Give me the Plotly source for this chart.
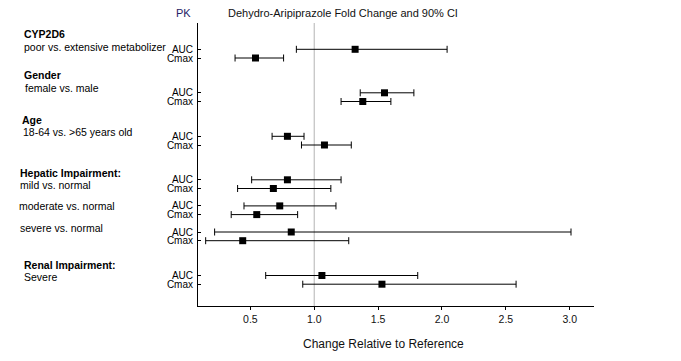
import numpy as np
import plotly.graph_objects as go

# ---- data (fold change and 90% CI) ----
groups = ["CYP2D6 poor vs. extensive", "Gender female vs. male", "Age 18-64 vs. >65",
          "Hepatic mild", "Hepatic moderate", "Hepatic severe", "Renal severe"]
auc_est = [1.32, 1.55, 0.79, 0.79, 0.73, 0.82, 1.06]
auc_lo = [0.86, 1.36, 0.67, 0.51, 0.45, 0.22, 0.62]
auc_hi = [2.04, 1.78, 0.92, 1.21, 1.17, 3.01, 1.81]
cmax_est = [0.54, 1.38, 1.08, 0.68, 0.55, 0.44, 1.53]
cmax_lo = [0.38, 1.21, 0.90, 0.40, 0.35, 0.15, 0.91]
cmax_hi = [0.76, 1.60, 1.29, 1.13, 0.87, 1.27, 2.58]
pk_params = ["AUC", "Cmax"]
x_ticks = [0.5, 1.0, 1.5, 2.0, 2.5, 3.0]

# layout of rows (row units): spacing between group starts
group_gap = [0, 5, 5, 5, 3, 3, 5]
starts = np.cumsum(group_gap)
y_auc = list(starts)
y_cmax = list(starts + 1)

FONT = "Liberation Sans, Arial, sans-serif"

# page geometry (the page body has an 8px default margin)
OFF = 8
W, H = 681, 361
L, R, T, B = 198, 87, 23, 55          # plot area in page pixels
PW = W - L - R
PH = H - T - B


def px_to_paper_x(px):
    return (px - L) / PW


def px_to_paper_y(py):
    return (H - B - py) / PH


fig = go.Figure()

# reference line at 1.0
fig.add_shape(type="line", x0=1.0, x1=1.0, y0=0, y1=1, xref="x", yref="paper",
              line=dict(color="#c0c0c0", width=1.2), layer="below")

ys, est, lo, hi = [], [], [], []
for i in range(len(groups)):
    ys += [y_auc[i], y_cmax[i]]
    est += [auc_est[i], cmax_est[i]]
    lo += [auc_lo[i], cmax_lo[i]]
    hi += [auc_hi[i], cmax_hi[i]]
est = np.array(est)
plus = np.array(hi) - est
minus = est - np.array(lo)

fig.add_trace(go.Scatter(
    x=est, y=ys, mode="markers",
    marker=dict(symbol="square", size=7, color="black"),
    error_x=dict(type="data", symmetric=False, array=plus, arrayminus=minus,
                 color="black", thickness=1, width=3.5),
    showlegend=False, hoverinfo="x+y"))

tickvals, ticktext = [], []
for i in range(len(groups)):
    tickvals += [y_auc[i], y_cmax[i]]
    ticktext += pk_params

# left-side labels: (text, bold, x px, y in row units)
labels = [
    ("CYP2D6", True, 22, -1.79),
    ("poor vs. extensive metabolizer", False, 22, -0.21),
    ("Gender", True, 22, 2.95),
    ("female vs. male", False, 23, 4.45),
    ("Age", True, 20, 8.13),
    ("18-64 vs. >65 years old", False, 21, 9.56),
    ("Hepatic Impairment:", True, 18, 14.22),
    ("mild vs. normal", False, 18, 15.60),
    ("moderate vs. normal", False, 17, 18.01),
    ("severe vs. normal", False, 18, 20.54),
    ("Renal Impairment:", True, 22, 24.74),
    ("Severe", False, 22, 26.14),
]
annotations = []
for text, bold, xpx, yv in labels:
    annotations.append(dict(
        text=f"<b>{text}</b>" if bold else text, x=px_to_paper_x(xpx), y=yv,
        xref="paper", yref="y", xanchor="left", yanchor="middle", showarrow=False,
        font=dict(family=FONT, size=10.5, color="black")))

annotations.append(dict(text="PK", x=px_to_paper_x(183), y=px_to_paper_y(13.5),
                        xref="paper", yref="paper", xanchor="center", yanchor="middle",
                        showarrow=False, font=dict(family=FONT, size=11, color="#1f2366")))
annotations.append(dict(text="Dehydro-Aripiprazole Fold Change and 90% CI",
                        x=px_to_paper_x(343), y=px_to_paper_y(13),
                        xref="paper", yref="paper", xanchor="center", yanchor="middle",
                        showarrow=False, font=dict(family=FONT, size=11, color="#111111")))
annotations.append(dict(text="Change Relative to Reference",
                        x=px_to_paper_x(383), y=px_to_paper_y(344),
                        xref="paper", yref="paper", xanchor="center", yanchor="middle",
                        showarrow=False, font=dict(family=FONT, size=12, color="#111111")))

y_top = (T - 49.3) / 8.7
y_bot = (H - B - 49.3) / 8.7

fig.update_layout(
    width=W - OFF, height=H - OFF,
    margin=dict(l=L - OFF, r=R, t=T - OFF, b=B, pad=0),
    paper_bgcolor="white", plot_bgcolor="white",
    font=dict(family=FONT, size=10, color="black"),
    xaxis=dict(range=[0.09, 3.19], tickvals=x_ticks,
               ticktext=[f"{v:.1f}" for v in x_ticks],
               showline=True, linecolor="black", linewidth=1,
               ticks="outside", ticklen=3, tickcolor="black", tickwidth=1,
               showgrid=False, zeroline=False,
               tickfont=dict(family=FONT, size=10.5, color="#111111")),
    yaxis=dict(range=[y_bot, y_top], tickvals=tickvals, ticktext=ticktext,
               showline=True, linecolor="black", linewidth=1,
               ticks="inside", ticklen=3, tickcolor="black", tickwidth=1,
               showgrid=False, zeroline=False, ticklabelstandoff=2,
               tickfont=dict(family=FONT, size=10, color="black")),
    annotations=annotations,
)

fig.write_html("out.html")
